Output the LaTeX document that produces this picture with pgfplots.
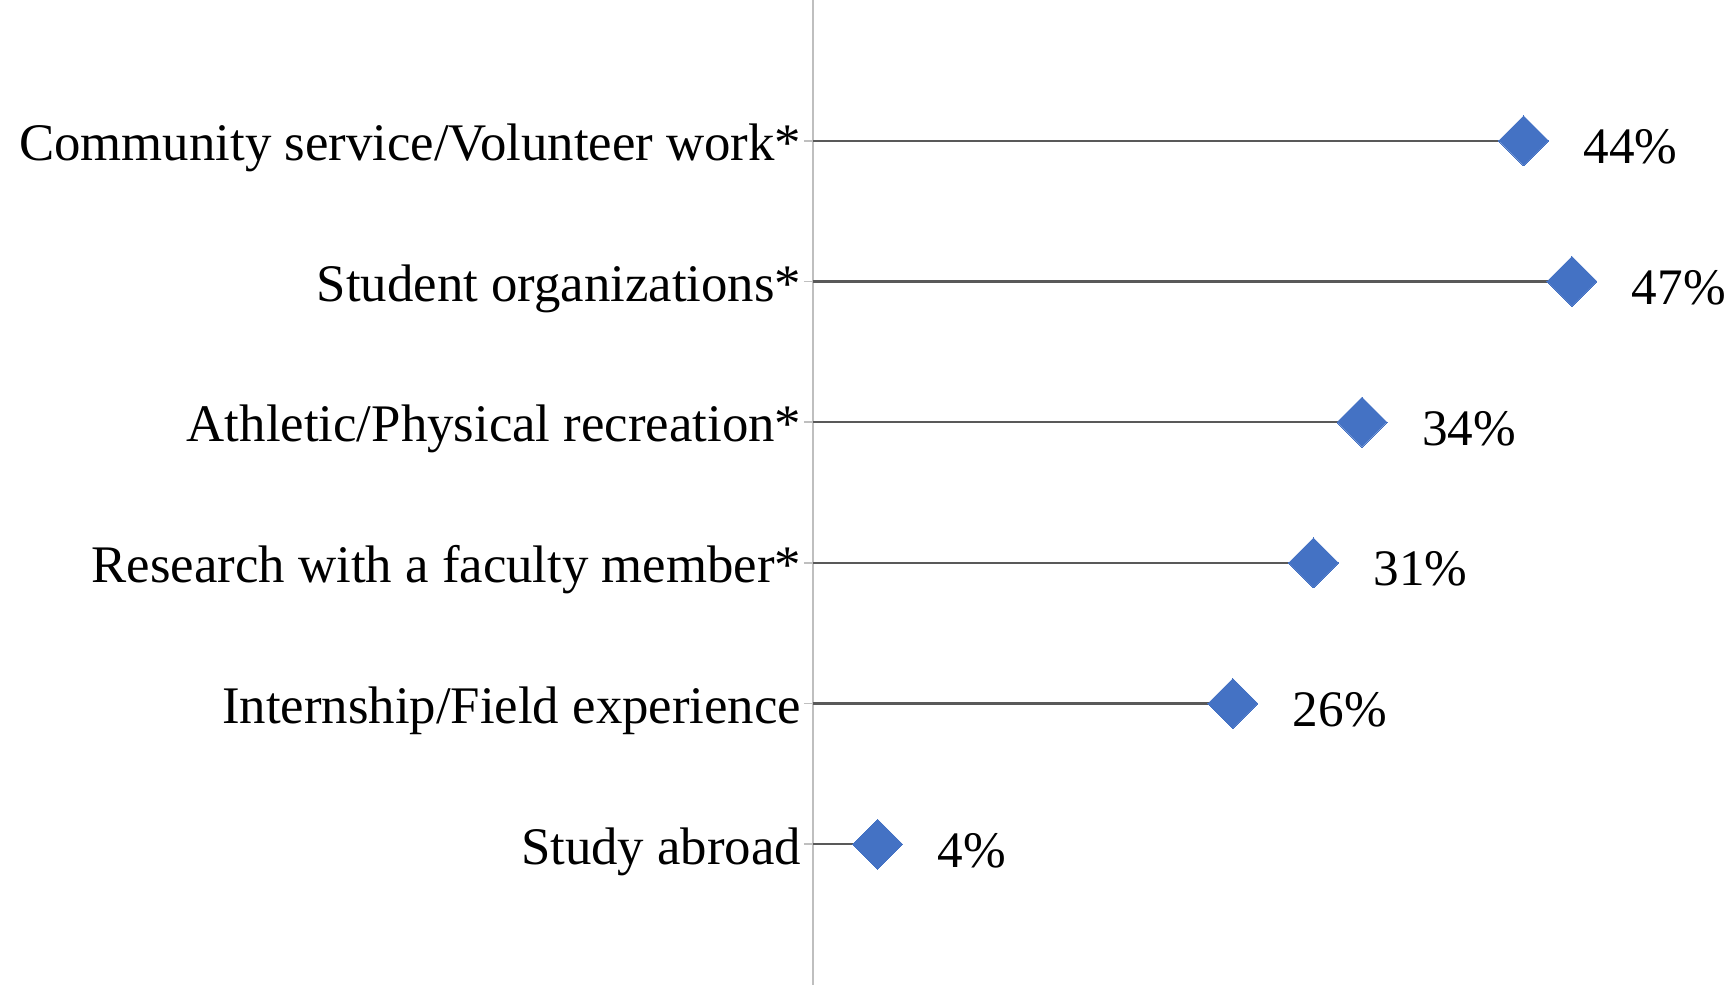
\documentclass[border=0pt]{standalone}
\usepackage{fontspec}
\setmainfont{Liberation Serif}
\usepackage{pgfplots}
\pgfplotsset{compat=1.18}

\definecolor{mkblue}{HTML}{4472C4}
\definecolor{stemgray}{HTML}{595959}
\definecolor{axgray}{HTML}{BFBFBF}

\begin{document}
\begin{tikzpicture}
\begin{axis}[
    at={(0,0)}, anchor=south west,
    scale only axis,
    width=228.5pt, height=246.25pt,
    xmin=0, xmax=56.6,
    ymin=0, ymax=7,
    axis x line=none,
    axis y line*=left,
    y axis line style={axgray, line width=0.4pt},
    xtick=\empty,
    ytick={1,2,3,4,5,6},
    yticklabels={Study abroad,
                 Internship/Field experience,
                 Research with a faculty member*,
                 Athletic/Physical recreation*,
                 Student organizations*,
                 Community service/Volunteer work*},
    tick align=outside,
    major tick length=2.25pt,
    ytick style={axgray, line width=0.4pt},
    yticklabel style={font=\fontsize{13.2}{15}\selectfont, inner sep=0pt, xshift=-0.5pt, yshift=-1.8pt},
    clip=false,
]
\addplot[xcomb, draw=stemgray, line width=0.55pt,
    mark=square*, mark size=4.42pt,
    mark options={rotate=45, fill=mkblue, draw=mkblue, line width=0pt},
    point meta=explicit symbolic,
    nodes near coords,
    nodes near coords style={anchor=west, inner sep=0pt, xshift=15pt, yshift=-1.6pt,
        font=\fontsize{12.8}{15}\selectfont, text=black},
] coordinates {
    (4,1) [4\%]
    (26,2) [26\%]
    (31,3) [31\%]
    (34,4) [34\%]
    (47,5) [47\%]
    (44,6) [44\%]
};
\end{axis}
\pgfresetboundingbox
\path[use as bounding box] (-203.25pt,0) rectangle (228.5pt,246.25pt);
\end{tikzpicture}
\end{document}
